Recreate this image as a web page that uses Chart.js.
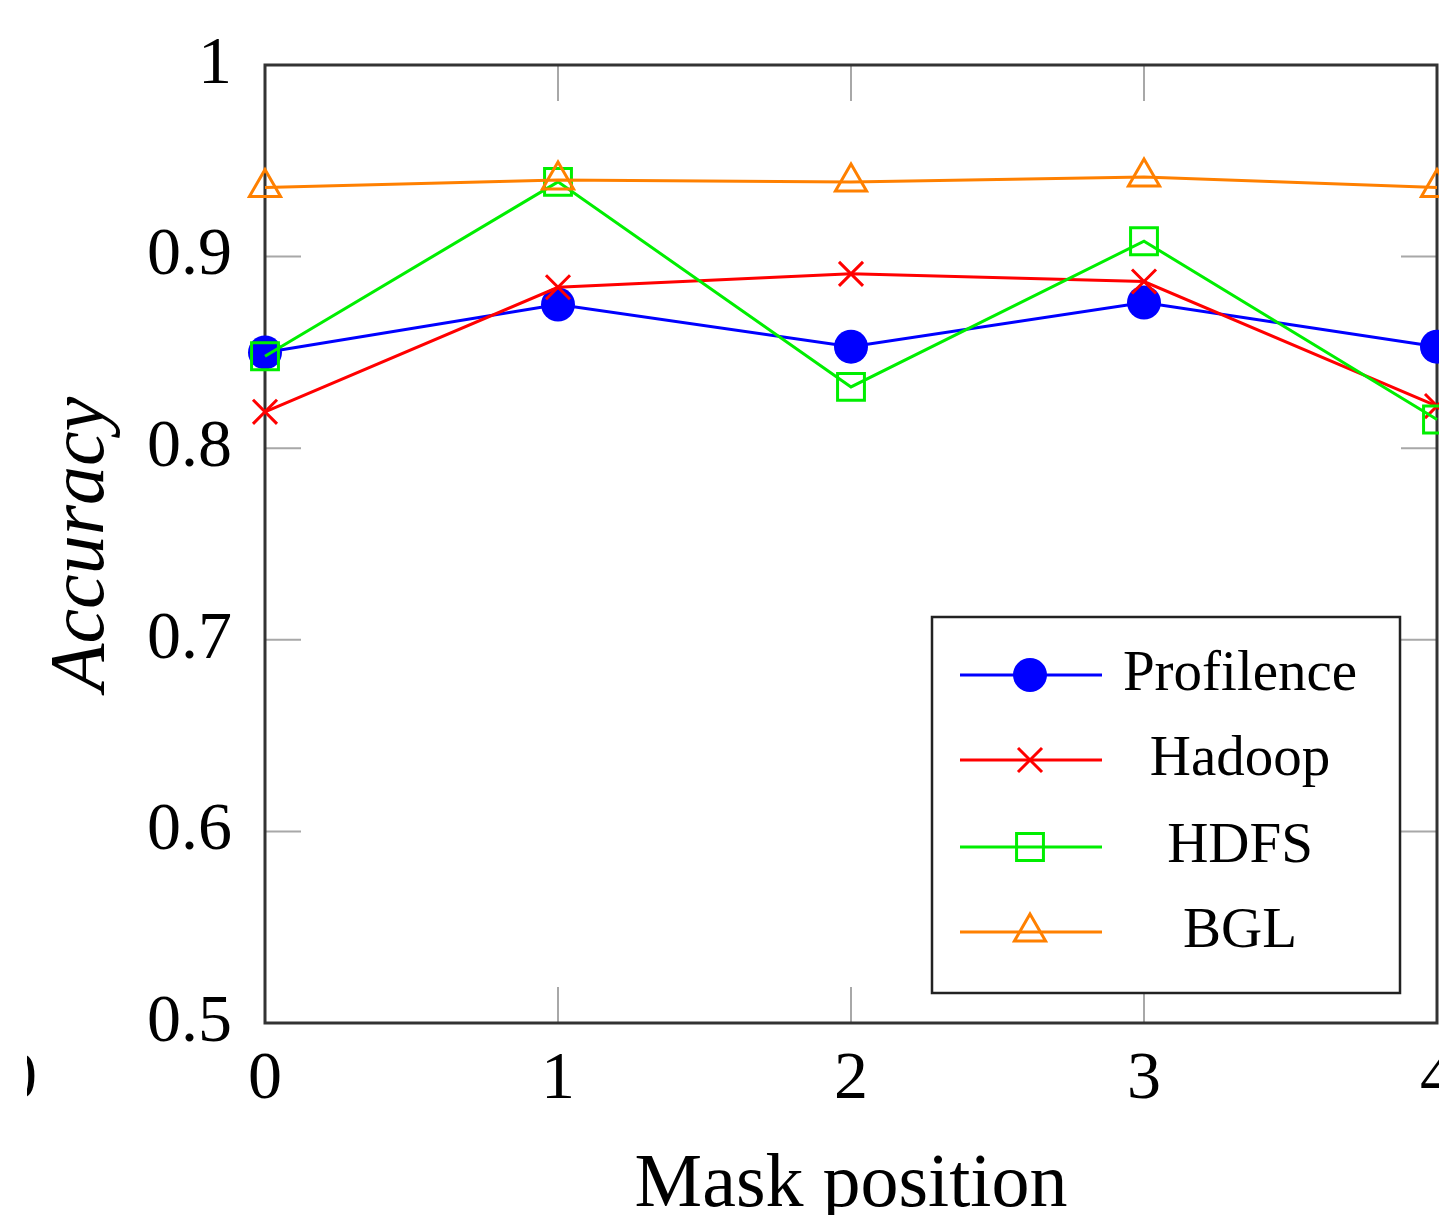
<!DOCTYPE html>
<html>
<head>
<meta charset="utf-8">
<script src="https://cdn.jsdelivr.net/npm/chart.js@4.4.0/dist/chart.umd.min.js"></script>
<style>
  html, body { margin: 0; padding: 0; background: #fff; overflow: hidden; }
  #wrap { position: absolute; left: 0; top: 0; width: 1500px; height: 1260px; }
</style>
</head>
<body>
<div id="wrap"><canvas id="chart" width="1500" height="1260"></canvas></div>
<script>
const positions = ['0', '1', '2', '3', '4'];
const profilence = [0.850, 0.875, 0.853, 0.876, 0.853];
const hadoop = [0.819, 0.884, 0.891, 0.887, 0.822];
const hdfs = [0.848, 0.939, 0.832, 0.908, 0.815];
const bgl = [0.936, 0.940, 0.939, 0.9415, 0.936];
const yTicks = [0.5, 0.6, 0.7, 0.8, 0.9, 1];

const serif = "'Liberation Serif', 'DejaVu Serif', serif";

// frame + short inward tick marks, pgfplots style
const framePlugin = {
  id: 'frame',
  beforeDatasetsDraw(chart) {
    const { ctx, chartArea: a, scales } = chart;
    ctx.save();
    ctx.strokeStyle = '#a8a8a8';
    ctx.lineWidth = 2;
    const len = 36;
    scales.y.ticks.forEach(t => {
      const y = scales.y.getPixelForValue(t.value);
      ctx.beginPath();
      ctx.moveTo(a.left, y); ctx.lineTo(a.left + len, y);
      ctx.moveTo(a.right, y); ctx.lineTo(a.right - len, y);
      ctx.stroke();
    });
    scales.x.ticks.forEach((t, i) => {
      const x = scales.x.getPixelForValue(i);
      ctx.beginPath();
      ctx.moveTo(x, a.bottom); ctx.lineTo(x, a.bottom - len);
      ctx.moveTo(x, a.top); ctx.lineTo(x, a.top + len);
      ctx.stroke();
    });
    ctx.strokeStyle = '#333';
    ctx.lineWidth = 3;
    ctx.strokeRect(a.left, a.top, a.right - a.left, a.bottom - a.top);
    ctx.restore();
  }
};

const legendPlugin = {
  id: 'boxLegend',
  afterDraw(chart) {
    const { ctx, chartArea: a } = chart;
    const w = 468, h = 376;
    const x0 = a.right - 37 - w, y0 = a.bottom - 30 - h;
    ctx.save();
    ctx.fillStyle = '#fff';
    ctx.fillRect(x0, y0, w, h);
    ctx.strokeStyle = '#222';
    ctx.lineWidth = 2.5;
    ctx.strokeRect(x0, y0, w, h);
    const rows = [58, 143, 230, 315];
    chart.data.datasets.forEach((ds, i) => {
      const y = y0 + rows[i];
      ctx.strokeStyle = ds.borderColor;
      ctx.lineWidth = ds.borderWidth;
      ctx.beginPath();
      ctx.moveTo(x0 + 28, y); ctx.lineTo(x0 + 170, y);
      ctx.stroke();
      ctx.fillStyle = ds.pointBackgroundColor;
      ctx.strokeStyle = ds.borderColor;
      ctx.lineWidth = ds.pointBorderWidth;
      Chart.helpers.drawPoint(ctx, {
        pointStyle: ds.pointStyle, rotation: 0,
        radius: ds.pointRadius, borderWidth: ds.pointBorderWidth
      }, x0 + 98, y);
      ctx.fillStyle = '#000';
      ctx.font = '57px ' + serif;
      ctx.textAlign = 'center';
      ctx.textBaseline = 'middle';
      ctx.fillText(ds.label, x0 + 308, y);
    });
    // cut-off label of the neighbouring figure at the far left
    ctx.beginPath();
    ctx.rect(27, 1030, 30, 100);
    ctx.clip();
    ctx.font = '68px ' + serif;
    ctx.textAlign = 'right';
    ctx.fillText('0', 37, 1080);
    ctx.restore();
  }
};

new Chart(document.getElementById('chart'), {
  type: 'line',
  data: {
    labels: positions,
    datasets: [
      {
        label: 'Profilence', data: profilence, order: 3,
        borderColor: '#0000ff', pointBackgroundColor: '#0000ff',
        borderWidth: 3, pointStyle: 'circle', pointRadius: 17, pointBorderWidth: 0
      },
      {
        label: 'Hadoop', data: hadoop, order: 2,
        borderColor: '#ff0000', pointBackgroundColor: '#ff0000',
        borderWidth: 3, pointStyle: 'crossRot', pointRadius: 17, pointBorderWidth: 3
      },
      {
        label: 'HDFS', data: hdfs, order: 1,
        borderColor: '#00ee00', pointBackgroundColor: 'rgba(0,0,0,0)',
        borderWidth: 3, pointStyle: 'rect', pointRadius: 19, pointBorderWidth: 3
      },
      {
        label: 'BGL', data: bgl, order: 0,
        borderColor: '#ff8000', pointBackgroundColor: 'rgba(0,0,0,0)',
        borderWidth: 3, pointStyle: 'triangle', pointRadius: 18, pointBorderWidth: 3
      }
    ].map(d => Object.assign(d, { tension: 0, clip: false, pointHoverRadius: d.pointRadius }))
  },
  options: {
    responsive: false,
    animation: false,
    devicePixelRatio: 1,
    layout: { padding: { top: 65, right: 63, left: 0, bottom: 0 } },
    plugins: { legend: { display: false }, tooltip: { enabled: false } },
    scales: {
      x: {
        offset: false,
        grid: { display: false, drawTicks: false },
        border: { display: false },
        ticks: { color: '#000', padding: 16, font: { family: serif, size: 68 } },
        title: {
          display: true, text: 'Mask position', color: '#000',
          font: { family: serif, size: 76 }, padding: { bottom: 28 }
        },
        afterFit: s => { s.height = 237; s.paddingLeft = 0; s.paddingRight = 0; }
      },
      y: {
        min: 0.5, max: 1,
        afterBuildTicks: s => { s.ticks = yTicks.map(v => ({ value: v })); },
        grid: { display: false, drawTicks: false },
        border: { display: false },
        ticks: {
          color: '#000', padding: 33, font: { family: serif, size: 68 },
          callback: v => String(+v.toFixed(1))
        },
        title: {
          display: true, text: 'Accuracy', color: '#000',
          font: { family: serif, size: 78, style: 'italic' }, padding: { top: 36 }
        },
        afterFit: s => { s.width = 265; s.paddingTop = 0; s.paddingBottom = 0; }
      }
    }
  },
  plugins: [framePlugin, legendPlugin]
});
</script>
</body>
</html>
